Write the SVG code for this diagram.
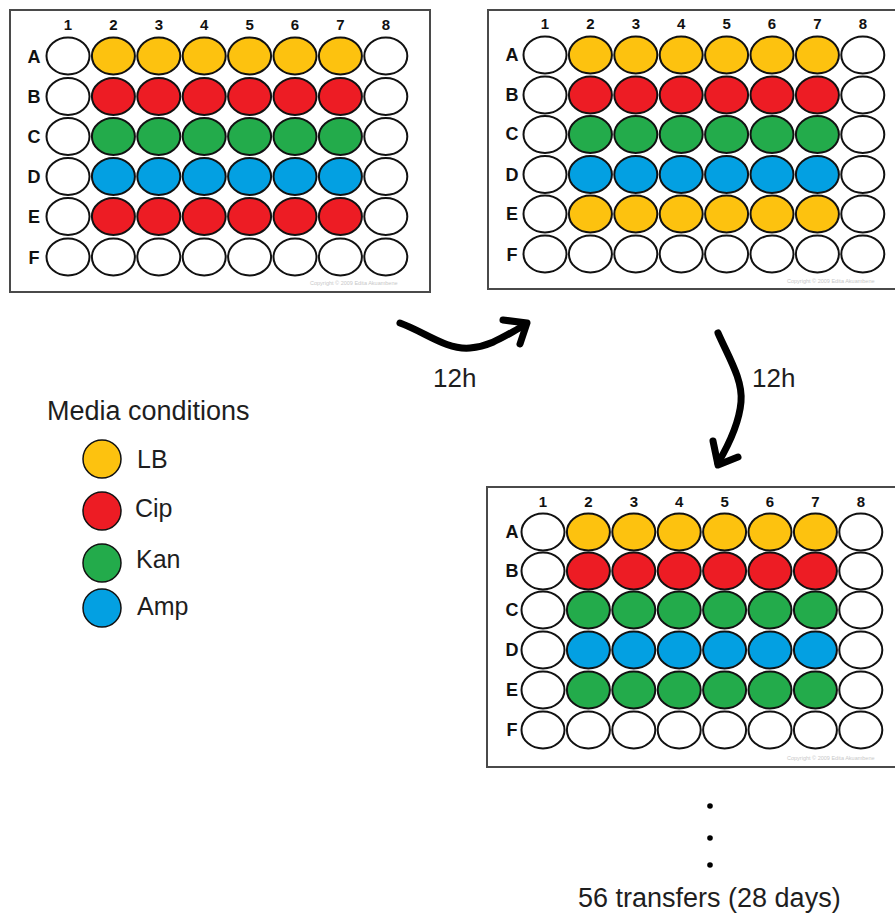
<svg xmlns="http://www.w3.org/2000/svg" xmlns:xlink="http://www.w3.org/1999/xlink" width="895" height="920" viewBox="0 0 895 920">
  <style>
    .frame { fill: #ffffff; stroke: #4a4a4a; stroke-width: 2; }
    .well { stroke: #111111; stroke-width: 2; }
    .empty { fill: #ffffff; }
    .lbl { font-family: "Liberation Sans", Arial, sans-serif; font-weight: bold; font-size: 15px; fill: #111111; text-anchor: middle; }
    .row { font-size: 18px; }
    .copy { font-family: "Liberation Sans", Arial, sans-serif; font-size: 5.5px; fill: #c8c8c8; }
    .txt { font-family: "Liberation Sans", Arial, sans-serif; fill: #1e1e1e; }
    .hand { fill: none; stroke: #000000; stroke-width: 7; stroke-linecap: round; stroke-linejoin: round; }
    .key { stroke: #111111; stroke-width: 1.5; }
  </style>
  <defs>
    <!-- one row of eight wells; outer columns empty, inner six take the row colour -->
    <g id="wellrow">
      <ellipse class="well empty" cx="0" cy="0" rx="21.5" ry="18.5"/>
      <ellipse class="well" fill="currentColor" cx="45.4" cy="0" rx="21.5" ry="18.5"/>
      <ellipse class="well" fill="currentColor" cx="90.8" cy="0" rx="21.5" ry="18.5"/>
      <ellipse class="well" fill="currentColor" cx="136.2" cy="0" rx="21.5" ry="18.5"/>
      <ellipse class="well" fill="currentColor" cx="181.6" cy="0" rx="21.5" ry="18.5"/>
      <ellipse class="well" fill="currentColor" cx="227" cy="0" rx="21.5" ry="18.5"/>
      <ellipse class="well" fill="currentColor" cx="272.4" cy="0" rx="21.5" ry="18.5"/>
      <ellipse class="well empty" cx="317.8" cy="0" rx="21.5" ry="18.5"/>
    </g>
    <!-- column numbers 1-8 -->
    <g id="colnums" class="lbl">
      <text x="0" y="0">1</text>
      <text x="45.4" y="0">2</text>
      <text x="90.8" y="0">3</text>
      <text x="136.2" y="0">4</text>
      <text x="181.6" y="0">5</text>
      <text x="227" y="0">6</text>
      <text x="272.4" y="0">7</text>
      <text x="317.8" y="0">8</text>
    </g>
  </defs>

  <rect width="895" height="920" fill="#ffffff"/>

  <!-- plate at t = 0 -->
  <g id="plate-start">
    <rect class="frame" x="10" y="10" width="420" height="282"/>
    <use xlink:href="#colnums" x="68" y="30"/>
    <g class="lbl row">
      <text x="34" y="63">A</text>
      <text x="34" y="103">B</text>
      <text x="34" y="143">C</text>
      <text x="34" y="183">D</text>
      <text x="34" y="223">E</text>
      <text x="34" y="264">F</text>
    </g>
    <use xlink:href="#wellrow" x="68" y="56" color="#fdc20f"/>
    <use xlink:href="#wellrow" x="68" y="96.5" color="#ed1c24"/>
    <use xlink:href="#wellrow" x="68" y="136.5" color="#23ab4b"/>
    <use xlink:href="#wellrow" x="68" y="176.5" color="#03a0e2"/>
    <use xlink:href="#wellrow" x="68" y="216.5" color="#ed1c24"/>
    <use xlink:href="#wellrow" x="68" y="257" color="#ffffff"/>
    <text class="copy" x="310" y="285">Copyright © 2009 Edita Akuambene</text>
  </g>

  <!-- plate after first transfer -->
  <g id="plate-12h">
    <rect class="frame" x="488" y="10" width="420" height="279"/>
    <use xlink:href="#colnums" x="545" y="29"/>
    <g class="lbl row">
      <text x="512" y="61">A</text>
      <text x="512" y="101">B</text>
      <text x="512" y="140">C</text>
      <text x="512" y="181">D</text>
      <text x="512" y="220">E</text>
      <text x="512" y="261">F</text>
    </g>
    <use xlink:href="#wellrow" x="545" y="55" color="#fdc20f"/>
    <use xlink:href="#wellrow" x="545" y="95" color="#ed1c24"/>
    <use xlink:href="#wellrow" x="545" y="134.5" color="#23ab4b"/>
    <use xlink:href="#wellrow" x="545" y="174.5" color="#03a0e2"/>
    <use xlink:href="#wellrow" x="545" y="214" color="#fdc20f"/>
    <use xlink:href="#wellrow" x="545" y="254" color="#ffffff"/>
    <text class="copy" x="787" y="283">Copyright © 2009 Edita Akuambene</text>
  </g>

  <!-- plate after second transfer -->
  <g id="plate-24h">
    <rect class="frame" x="487" y="487" width="420" height="280"/>
    <use xlink:href="#colnums" x="543" y="507"/>
    <g class="lbl row">
      <text x="512" y="538">A</text>
      <text x="512" y="577">B</text>
      <text x="512" y="616">C</text>
      <text x="512" y="656">D</text>
      <text x="512" y="696">E</text>
      <text x="512" y="736">F</text>
    </g>
    <use xlink:href="#wellrow" x="543" y="532" color="#fdc20f"/>
    <use xlink:href="#wellrow" x="543" y="571" color="#ed1c24"/>
    <use xlink:href="#wellrow" x="543" y="610" color="#23ab4b"/>
    <use xlink:href="#wellrow" x="543" y="650" color="#03a0e2"/>
    <use xlink:href="#wellrow" x="543" y="690" color="#23ab4b"/>
    <use xlink:href="#wellrow" x="543" y="730" color="#ffffff"/>
    <text class="copy" x="787" y="760">Copyright © 2009 Edita Akuambene</text>
  </g>

  <!-- legend -->
  <g id="legend">
    <text class="txt" x="47" y="420" font-size="27">Media conditions</text>
    <circle class="key" cx="102" cy="459" r="19" fill="#fdc20f"/>
    <circle class="key" cx="102" cy="511" r="19" fill="#ed1c24"/>
    <circle class="key" cx="102" cy="563" r="19" fill="#23ab4b"/>
    <circle class="key" cx="102" cy="608" r="19" fill="#03a0e2"/>
    <g class="txt" font-size="25">
      <text x="137" y="468">LB</text>
      <text x="135" y="517">Cip</text>
      <text x="136" y="568">Kan</text>
      <text x="137" y="615">Amp</text>
    </g>
  </g>

  <!-- hand-drawn transfer arrows -->
  <g id="connectors">
    <path class="hand" d="M400,323 C425,332 446,350 470,348 C492,346 506,335 525,325"/>
    <path class="hand" d="M503,320 L527,323 L520,344"/>
    <path class="hand" d="M718,333 C729,358 743,380 741,402 C739,425 728,446 718,463"/>
    <path class="hand" d="M713,441 L718,465 L738,457"/>
  </g>

  <g id="labels" class="txt" font-size="26">
    <text x="433" y="387">12h</text>
    <text x="752" y="387">12h</text>
  </g>

  <!-- continuation -->
  <g id="continuation">
    <circle cx="710" cy="806" r="2.8" fill="#000000"/>
    <circle cx="710" cy="838" r="2.8" fill="#000000"/>
    <circle cx="710" cy="865" r="2.8" fill="#000000"/>
    <text class="txt" x="578" y="907" font-size="27">56 transfers (28 days)</text>
  </g>
</svg>
